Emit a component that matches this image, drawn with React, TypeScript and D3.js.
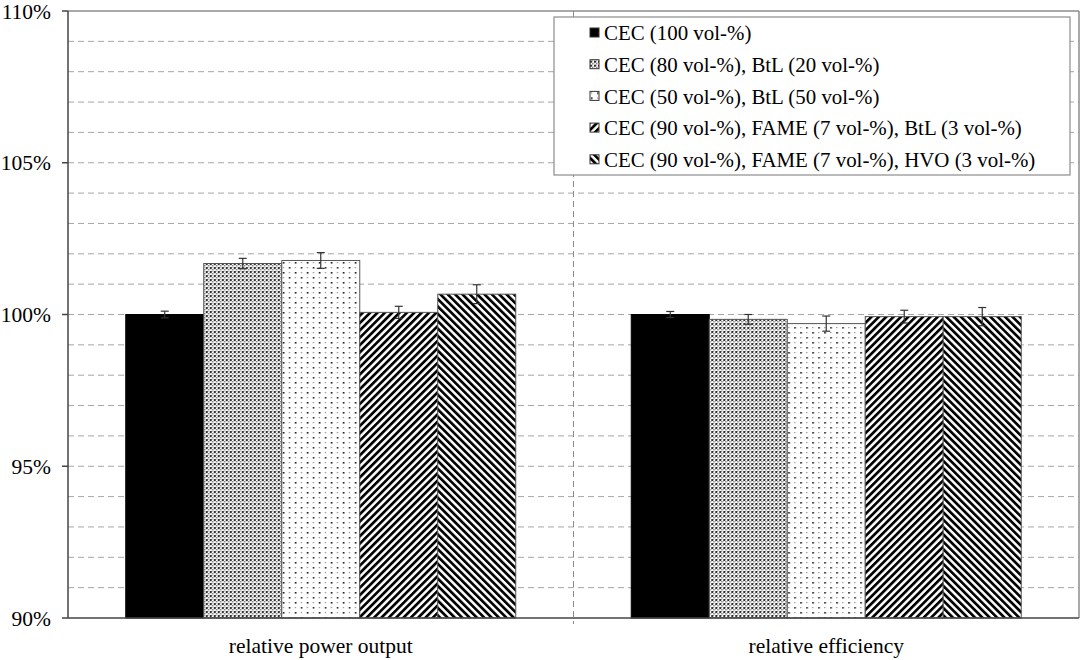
import React from "react";
import * as d3 from "d3";

const categories = ["relative power output", "relative efficiency"];
const seriesNames = [
  "CEC (100 vol-%)",
  "CEC (80 vol-%), BtL (20 vol-%)",
  "CEC (50 vol-%), BtL (50 vol-%)",
  "CEC (90 vol-%), FAME (7 vol-%), BtL (3 vol-%)",
  "CEC (90 vol-%), FAME (7 vol-%), HVO (3 vol-%)",
];
// values per series, [power, efficiency]
const values = [
  [100.0, 100.0],
  [101.68, 99.84],
  [101.78, 99.7],
  [100.07, 99.93],
  [100.67, 99.93],
];
const errors = [
  [0.11, 0.1],
  [0.17, 0.16],
  [0.26, 0.25],
  [0.2, 0.21],
  [0.31, 0.3],
];
const yTicks = [90, 95, 100, 105, 110];
const patternIds = ["solid", "dense", "sparse", "fwd", "back"];

const W = 1084;
const H = 660;
const margin = { top: 11, right: 5, bottom: 42, left: 68 };
const innerW = W - margin.left - margin.right;
const innerH = H - margin.top - margin.bottom;

const x0 = d3.scaleBand().domain(categories).range([0, innerW]);
const x1 = d3
  .scaleBand()
  .domain(seriesNames)
  .range([0, 390])
  .paddingInner(0);
const y = d3.scaleLinear().domain([90, 110]).range([innerH, 0]);
const minor = d3.range(91, 110, 1);

const fillFor = (i: number) => (i === 0 ? "#000" : `url(#${patternIds[i]})`);

const Patterns = () => (
  <defs>
    <pattern id="dense" width="4" height="4" patternUnits="userSpaceOnUse">
      <rect width="4" height="4" fill="#fff" />
      <rect x="0" y="0" width="2" height="2" fill="#333" />
      <rect x="2" y="2" width="1.5" height="1.5" fill="#777" />
      <rect x="2" y="0" width="1" height="1" fill="#bbb" />
      <rect x="0" y="2" width="1" height="1" fill="#ccc" />
    </pattern>
    <pattern id="sparse" width="12" height="10" patternUnits="userSpaceOnUse">
      <rect width="12" height="10" fill="#fff" />
      <rect x="1" y="1" width="1.6" height="1.6" fill="#111" />
      <rect x="7" y="6" width="1.6" height="1.6" fill="#222" />
      <rect x="7" y="1" width="1.2" height="1.2" fill="#888" />
      <rect x="1" y="6" width="1.2" height="1.2" fill="#888" />
    </pattern>
    <pattern
      id="fwd"
      width="5.2"
      height="5.2"
      patternUnits="userSpaceOnUse"
      patternTransform="rotate(45)"
    >
      <rect width="5.2" height="5.2" fill="#fff" />
      <rect width="2.7" height="5.2" fill="#000" />
    </pattern>
    <pattern
      id="back"
      width="5.2"
      height="5.2"
      patternUnits="userSpaceOnUse"
      patternTransform="rotate(-45)"
    >
      <rect width="5.2" height="5.2" fill="#fff" />
      <rect width="2.7" height="5.2" fill="#000" />
    </pattern>
  </defs>
);

export default function App() {
  const font = "'Liberation Serif', 'Times New Roman', serif";
  const fs = 21.5;
  return (
    <svg
      width={W}
      height={H}
      style={{ position: "absolute", left: 0, top: 0, background: "#fff" }}
      fontFamily={font}
    >
      <Patterns />
      <rect width={W} height={H} fill="#fff" />
      <g transform={`translate(${margin.left},${margin.top})`}>
        {minor.map((v) => (
          <line
            key={v}
            x1={0}
            x2={innerW}
            y1={y(v)}
            y2={y(v)}
            stroke="#a6a6a6"
            strokeDasharray="6,4"
            strokeWidth={1}
          />
        ))}
        <line
          x1={innerW / 2}
          x2={innerW / 2}
          y1={0}
          y2={innerH + 6}
          stroke="#8c8c8c"
          strokeDasharray="6,4"
        />
        <line x1={0} x2={innerW} y1={0} y2={0} stroke="#8c8c8c" strokeWidth={1.5} />
        <line x1={innerW} x2={innerW} y1={0} y2={innerH} stroke="#8c8c8c" strokeWidth={1.5} />

        {categories.map((c, ci) => {
          const gx = (x0(c) ?? 0) + (x0.bandwidth() - 390) / 2;
          return (
            <g key={c} transform={`translate(${gx},0)`}>
              {seriesNames.map((s, si) => {
                const bx = x1(s) ?? 0;
                const v = values[si][ci];
                const e = errors[si][ci];
                const cx = bx + x1.bandwidth() / 2;
                return (
                  <g key={s}>
                    <rect
                      x={bx}
                      y={y(v)}
                      width={x1.bandwidth()}
                      height={innerH - y(v)}
                      fill={fillFor(si)}
                      stroke={si === 0 ? "#000" : "#555"}
                      strokeWidth={1}
                    />
                    <g stroke="#333" strokeWidth={1.2}>
                      <line x1={cx} x2={cx} y1={y(v + e)} y2={y(v - e)} />
                      <line x1={cx - 4} x2={cx + 4} y1={y(v + e)} y2={y(v + e)} />
                      <line x1={cx - 4} x2={cx + 4} y1={y(v - e)} y2={y(v - e)} />
                    </g>
                  </g>
                );
              })}
            </g>
          );
        })}

        <line x1={0} x2={0} y1={0} y2={innerH} stroke="#444" strokeWidth={1.5} />
        <line x1={0} x2={innerW} y1={innerH} y2={innerH} stroke="#444" strokeWidth={1.5} />
        {yTicks.map((t) => (
          <g key={t}>
            <line x1={-6} x2={0} y1={y(t)} y2={y(t)} stroke="#444" strokeWidth={1.5} />
            <text
              x={-17}
              y={y(t)}
              dy="0.35em"
              textAnchor="end"
              fontSize={fs}
              fill="#000"
            >
              {t}%
            </text>
          </g>
        ))}
        {categories.map((c) => (
          <text
            key={c}
            x={(x0(c) ?? 0) + x0.bandwidth() / 2}
            y={innerH + 35}
            textAnchor="middle"
            fontSize={fs}
            fill="#000"
          >
            {c}
          </text>
        ))}

        <g transform={`translate(${554 - margin.left},${17 - margin.top})`}>
          <rect width={516} height={158} fill="#fff" stroke="#8c8c8c" strokeWidth={1.2} />
          {seriesNames.map((s, si) => (
            <g key={s} transform={`translate(36,${16 + si * 31.7})`}>
              <rect
                x={0}
                y={-5}
                width={9}
                height={9}
                fill={fillFor(si)}
                stroke="#333"
                strokeWidth={1}
              />
              <text x={14} y={0} dy="0.35em" fontSize={20.9} fill="#000">
                {s}
              </text>
            </g>
          ))}
        </g>
      </g>
    </svg>
  );
}
